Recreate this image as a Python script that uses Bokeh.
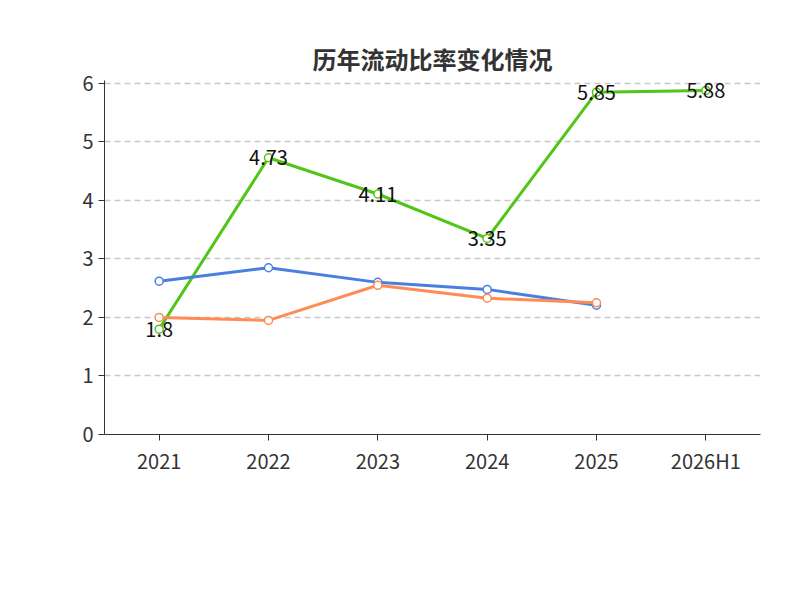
from bokeh.plotting import figure
from bokeh.models import Legend, LegendItem, Label, ColumnDataSource, FactorRange
from bokeh.embed import file_html
from bokeh.resources import INLINE
from bokeh.core.properties import value

years = ["2021", "2022", "2023", "2024", "2025", "2026H1"]
ratio = [1.8, 4.73, 4.11, 3.35, 5.85, 5.88]
ind_avg = [2.62, 2.85, 2.60, 2.48, 2.21]
ind_med = [2.00, 1.95, 2.55, 2.33, 2.25]

F = "Noto Sans CJK SC"
p = figure(width=784, height=584, x_range=FactorRange(*years), y_range=(0, 6.05),
           output_backend="svg", toolbar_location=None,
           min_border_left=104, min_border_right=24, min_border_top=80, min_border_bottom=150)
p.title.text = "历年流动比率变化情况"
p.title.align = "center"
p.title.text_font = F
p.title.text_font_size = "24px"
p.title.text_color = "#333333"
p.outline_line_color = None
p.xgrid.grid_line_color = None
p.ygrid.grid_line_dash = "6 4"
p.ygrid.grid_line_color = "#c8c8c8"
p.ygrid.grid_line_width = 1.5
for ax in (p.xaxis, p.yaxis):
    ax.axis_line_color = "#333333"
    ax.major_tick_line_color = "#333333"
    ax.major_label_text_font = F
    ax.major_label_text_font_size = "20px"
    ax.major_label_text_color = "#333333"
    ax.minor_tick_line_color = None
p.yaxis.ticker = [0, 1, 2, 3, 4, 5, 6]
p.yaxis.major_tick_in = 0
p.yaxis.major_tick_out = 6
p.xaxis.major_tick_in = 0
p.xaxis.major_tick_out = 6

cols = ["#52c41a", "#4a7fe0", "#ff8c55"]
series = [(ratio, years, cols[0], "流动比率"), (ind_avg, years[:5], cols[1], "行业均值"),
          (ind_med, years[:5], cols[2], "行业中位数")]
items = []
for vals, xs, c, name in series:
    r = p.line(xs, vals, line_color=c, line_width=3)
    s = p.scatter(xs, vals, size=8, fill_color="white", line_color=c, line_width=1.5)
    items.append(LegendItem(label=name, renderers=[r, s]))

src = ColumnDataSource(dict(x=years, y=ratio, t=[str(v) for v in ratio]))
p.text("x", "y", text="t", source=src, text_align="center", text_baseline="middle",
       text_font=value(F), text_font_size="20px", text_color="#111111")

leg = Legend(items=items, orientation="horizontal", location=(20, -118),
             label_text_font=F, label_text_font_size="20px", label_text_color="#333333",
             border_line_color=None, background_fill_alpha=0, glyph_width=45, spacing=25)
p.add_layout(leg, "center")
foot = Label(x=3.0, y=-2.54, text="制图数据来自恒生聚源数据库", text_align="center",
             text_baseline="middle", text_font=F, text_font_size="15px", text_color="#c8961e")
p.add_layout(foot)

open("out.html", "w").write(file_html(p, INLINE))
